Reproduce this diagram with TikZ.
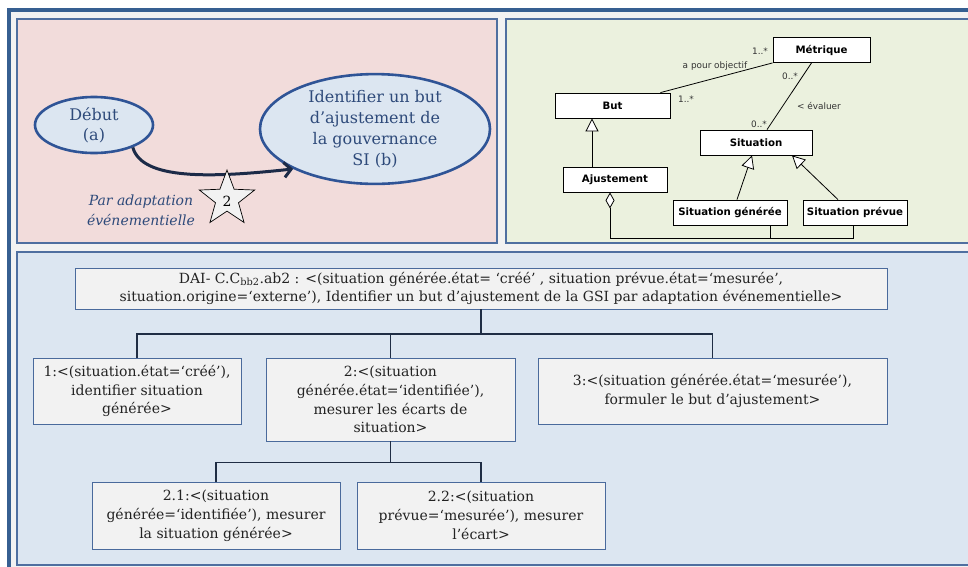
\documentclass[tikz,border=0pt]{standalone}
\usepackage{fontspec}
\setmainfont{DejaVu Serif}
\newfontfamily\umlfont{DejaVu Sans}
\usetikzlibrary{shapes.geometric,arrows.meta,calc}
\definecolor{frameblue}{HTML}{365F91}
\definecolor{panelborder}{HTML}{4F6FA0}
\definecolor{pinkfill}{HTML}{F2DCDB}
\definecolor{greenfill}{HTML}{EBF1DE}
\definecolor{bluefill}{HTML}{DCE6F1}
\definecolor{boxfill}{HTML}{F2F2F2}
\definecolor{boxborder}{HTML}{4A6A9C}
\definecolor{ellborder}{HTML}{2F5496}
\definecolor{elltext}{HTML}{2E4A7A}
\definecolor{navy}{HTML}{1C2B48}
\definecolor{conn}{HTML}{1F2D44}
\definecolor{lbl}{HTML}{333333}
\definecolor{tasktext}{HTML}{222222}
\tikzset{
  panel/.style={draw=panelborder, line width=1.2pt},
  ell/.style={ellipse, draw=ellborder, line width=2.6pt, fill=bluefill, text=elltext, align=center, inner sep=0pt},
  taskbox/.style={draw=boxborder, fill=boxfill, line width=0.9pt, align=center, inner sep=0pt,
     text=tasktext, font=\fontsize{14}{18.8}\selectfont},
  umlbox/.style={draw=black, fill=white, line width=0.8pt, inner sep=0pt, minimum height=25pt,
     font=\umlfont\bfseries\fontsize{10.2}{12}\selectfont},
  umllbl/.style={text=lbl, inner sep=0pt, font=\umlfont\fontsize{8.9}{10}\selectfont},
  umlline/.style={draw=black, line width=0.8pt},
  gen/.style={umlline, -{Triangle[open, length=13pt, width=13pt, fill=white]}},
  conline/.style={draw=conn, line width=1.3pt},
}
\begin{document}
\begin{tikzpicture}[x=1pt,y=-1pt]
\useasboundingbox (0,0) rectangle (968,566);
\fill[white] (0,0) rectangle (968,566);
\fill[boxfill] (9,10) rectangle (975,575);
\draw[frameblue, line width=4pt] (9,575) -- (9,10) -- (975,10);
% panels
\draw[panel, fill=pinkfill] (17,19) rectangle (497,243);
\draw[panel, fill=greenfill] (506,19) rectangle (980,243);
\draw[panel, fill=bluefill] (17,252) rectangle (980,565);

% left panel
\node[ell, minimum width=118pt, minimum height=56pt, font=\fontsize{16}{20}\selectfont] (deb) at (94,125) {Début\\(a)};
\node[ell, minimum width=230pt, minimum height=104pt, font=\fontsize{16}{21}\selectfont] (ident) at (375,129) {Identifier un but\\d’ajustement de\\la gouvernance\\SI (b)};
\draw[navy, line width=3pt, -{Straight Barb[length=7pt, width=15pt, line width=3pt]}]
  (deb.-30) .. controls (142,180) and (210,178) .. (ident.206);
\node[star, star points=5, star point ratio=2.4, minimum size=58pt, inner sep=0pt, draw=black, line width=0.7pt, fill=boxfill] (star) at (227,199) {};
\node[font=\fontsize{14}{16}\selectfont] (two) at (227,201) {2};
\node[text=elltext, align=center, font=\itshape\fontsize{14}{20}\selectfont] (par) at (141,210) {Par adaptation\\événementielle};

% UML panel
\node[umlbox, minimum width=97pt] (met) at (821.5,50) {Métrique};
\node[umlbox, minimum width=115pt] (but) at (612.5,105.5) {But};
\node[umlbox, minimum width=112pt] (sit) at (756,142.5) {Situation};
\node[umlbox, minimum width=104pt] (aj) at (615,179.5) {Ajustement};
\node[umlbox, minimum width=114pt] (sg) at (730,212.5) {Situation générée};
\node[umlbox, minimum width=104pt] (sp) at (855,212.5) {Situation prévue};

\draw[umlline] (met.south west) -- ($(but.north east)+(-10,0)$);
\draw[umlline] ($(met.south)+(-10,0)$) -- ($(sit.north)+(11,0)$);
\node[umllbl] (l1) at (760,51) {1..*};
\node[umllbl] (l2) at (715,66) {a pour objectif};
\node[umllbl] (l3) at (686,99) {1..*};
\node[umllbl] (l4) at (790,76) {0..*};
\node[umllbl] (l5) at (819,106) {< évaluer};
\node[umllbl] (l6) at (759,124) {0..*};

\draw[gen] ($(aj.north)+(-23,0)$) -- ($(but.south)+(-20.5,0)$);
\draw[gen] ($(sg.north)+(7,0)$) -- ($(sit.south)+(-4,0)$);
\draw[gen] ($(sp.north)+(-17,0)$) -- ($(sit.south)+(36,0)$);

\coordinate (aggA) at ($(aj.south)+(-5,0)$);
\coordinate (aggB) at ($(aggA)+(0,45.5)$);
\coordinate (aggC) at ($(sp.south)+(-2,0)$);
\coordinate (aggD) at ($(sg.south)+(40,0)$);
\draw[umlline, {Diamond[open, length=16pt, width=9pt, fill=white]}-] (aggA) -- (aggB) -- (aggB -| aggC) -- (aggC);
\draw[umlline] (aggD) -- (aggD |- aggB);

% bottom panel
\node[taskbox, minimum width=812pt, minimum height=41pt] (top) at (481,288.5)
 {DAI- C.C\textsubscript{bb2}.ab2 : <(situation générée.état= ‘créé’ , situation prévue.état=‘mesurée’,\\
  situation.origine=‘externe’), Identifier un but d’ajustement de la GSI par adaptation événementielle>};
\node[taskbox, minimum width=208pt, minimum height=66pt] (b1) at (137,391)
 {1:<(situation.état=‘créé’),\\identifier situation\\générée>};
\node[taskbox, minimum width=249pt, minimum height=83pt] (b2) at (390.5,399.5)
 {2:<(situation\\générée.état=‘identifiée’),\\mesurer les écarts de\\situation>};
\node[taskbox, minimum width=349pt, minimum height=66pt] (b3) at (712.5,391)
 {3:<(situation générée.état=‘mesurée’),\\formuler le but d’ajustement>};
\node[taskbox, minimum width=248pt, minimum height=67pt] (b21) at (216,515.5)
 {2.1:<(situation\\générée=‘identifiée’), mesurer\\la situation générée>};
\node[taskbox, minimum width=248pt, minimum height=67pt] (b22) at (481,515.5)
 {2.2:<(situation\\prévue=‘mesurée’), mesurer\\l’écart>};

\coordinate (j1) at ($(top.south)+(0,24.5)$);
\draw[conline] (top.south) -- (j1);
\draw[conline] (b1.north) |- (j1) -| (b3.north);
\draw[conline] (b2.north) -- (b2.north |- j1);
\coordinate (j2) at ($(b2.south)+(0,21)$);
\draw[conline] (b2.south) -- (j2);
\draw[conline] (b21.north) |- (j2) -| (b22.north);
\end{tikzpicture}
\end{document}
